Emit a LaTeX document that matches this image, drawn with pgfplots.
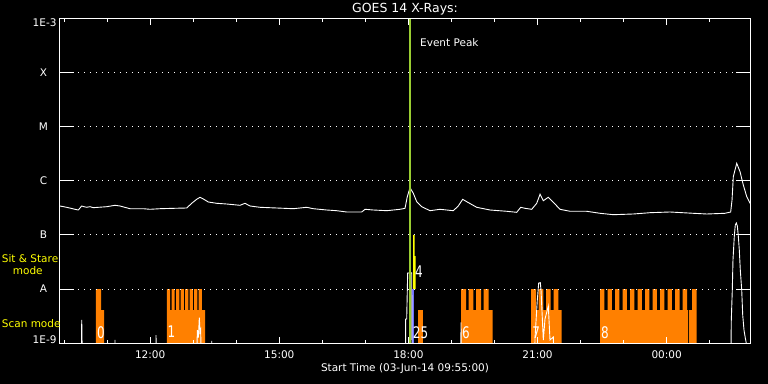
\documentclass[border=0pt]{standalone}
\usepackage{fontspec}
\setmainfont{DejaVu Sans}
\usepackage{graphicx}
\usepackage{pgfplots}
\pgfplotsset{compat=1.18}
\definecolor{iorange}{RGB}{255,128,0}
\definecolor{igreen}{RGB}{154,205,50}
\definecolor{iblue}{RGB}{110,110,255}
\definecolor{iyellow}{RGB}{255,255,0}
\newcommand{\tf}{\fontsize{10.5bp}{12bp}\selectfont}
\newcommand{\nf}{\fontsize{16bp}{18bp}\selectfont}
\newcommand{\num}[1]{\scalebox{0.75}[1]{\nf #1}}
\begin{document}
\begin{tikzpicture}
\fill[black] (-60bp,-41bp) rectangle (708bp,343bp);
\begin{axis}[
  at={(0,0)}, anchor=south west,
  scale only axis, width=690bp, height=324bp,
  xmin=9.9051, xmax=25.9366, ymin=-9, ymax=-3,
  axis on top,
  axis line style={white, line width=1bp},
  tick style={white, line width=1bp},
  tick align=inside,
  xtick={12,15,18,21,24},
  xticklabels={12:00,15:00,18:00,21:00,00:00},
  minor xtick={10,11,13,14,16,17,19,20,22,23,25},
  major tick length=6bp, minor tick length=3.5bp,
  ytick={-9,-8,-7,-6,-5,-4,-3},
  ytick style={/pgfplots/major tick length=14bp},
  yticklabels={\smash{1E-9},\makebox[26bp]{A},\makebox[26bp]{B},\makebox[26bp]{C},\makebox[26bp]{M},\makebox[26bp]{X},\smash{\raisebox{-7.4bp}{1E-3}}},
  ymajorgrids,
  grid style={white, line width=1bp, dash pattern=on 1bp off 5bp},
  ticklabel style={white, font=\tf},
  xticklabel style={anchor=center, yshift=-12bp},
  yticklabel style={anchor=east},
  every axis title shift=0pt,
  title={GOES 14 X-Rays:},
  title style={white, font=\fontsize{12.5bp}{14bp}\selectfont, at={(axis description cs:0.5,1)}, anchor=center, yshift=10bp},
  xlabel={Start Time (03-Jun-14 09:55:00)},
  xlabel style={white, font=\tf, at={(axis description cs:0.5,0)}, anchor=center, yshift=-26bp},
]
% Scan mode bars (orange)
\addplot[fill=iorange, draw=none] coordinates {(10.7415,-9.5)(10.7415,-8)(10.8577,-8)(10.8577,-8.389)(10.9274,-8.389)(10.9274,-9.5)};
\addplot[fill=iorange, draw=none] coordinates {(12.3911,-9.5)(12.3911,-8)(12.4655,-8)(12.4655,-8.389)(12.4957,-8.389)(12.4957,-8)(12.5701,-8)(12.5701,-8.389)(12.6026,-8.389)(12.6026,-8)(12.6769,-8)(12.6769,-8.389)(12.7071,-8.389)(12.7071,-8)(12.7815,-8)(12.7815,-8.389)(12.8117,-8.389)(12.8117,-8)(12.8860,-8)(12.8860,-8.389)(12.9186,-8.389)(12.9186,-8)(12.9929,-8)(12.9929,-8.389)(13.0231,-8.389)(13.0231,-8)(13.0975,-8)(13.0975,-8.389)(13.1277,-8.389)(13.1277,-8)(13.2020,-8)(13.2020,-8.389)(13.2741,-8.389)(13.2741,-9.5)};
\addplot[fill=iorange, draw=none] coordinates {(18.2229,-9.5)(18.2229,-8.389)(18.3391,-8.389)(18.3391,-9.5)};
\addplot[fill=iorange, draw=none] coordinates {(19.2220,-9.5)(19.2220,-8)(19.3382,-8)(19.3382,-8.389)(19.4009,-8.389)(19.4009,-8)(19.5078,-8)(19.5078,-8.389)(19.5705,-8.389)(19.5705,-8)(19.6867,-8)(19.6867,-8.389)(19.7494,-8.389)(19.7494,-8)(19.8656,-8)(19.8656,-8.389)(19.9585,-8.389)(19.9585,-9.5)};
\addplot[fill=iorange, draw=none] coordinates {(20.8484,-9.5)(20.8484,-8)(20.9646,-8)(20.9646,-8.389)(21.0273,-8.389)(21.0273,-8)(21.1342,-8)(21.1342,-8.389)(21.1969,-8.389)(21.1969,-8)(21.3061,-8)(21.3061,-8.389)(21.3758,-8.389)(21.3758,-8)(21.4827,-8)(21.4827,-8.389)(21.5617,-8.389)(21.5617,-9.5)};
\addplot[fill=iorange, draw=none] coordinates {(22.4516,-9.5)(22.4516,-8)(22.5515,-8)(22.5515,-8.389)(22.6263,-8.389)(22.6263,-8)(22.7262,-8)(22.7262,-8.389)(22.8010,-8.389)(22.8010,-8)(22.9009,-8)(22.9009,-8.389)(22.9758,-8.389)(22.9758,-8)(23.0757,-8)(23.0757,-8.389)(23.1505,-8.389)(23.1505,-8)(23.2504,-8)(23.2504,-8.389)(23.3252,-8.389)(23.3252,-8)(23.4251,-8)(23.4251,-8.389)(23.4999,-8.389)(23.4999,-8)(23.5998,-8)(23.5998,-8.389)(23.6746,-8.389)(23.6746,-8)(23.7745,-8)(23.7745,-8.389)(23.8494,-8.389)(23.8494,-8)(23.9493,-8)(23.9493,-8.389)(24.0241,-8.389)(24.0241,-8)(24.1240,-8)(24.1240,-8.389)(24.1988,-8.389)(24.1988,-8)(24.2987,-8)(24.2987,-8.389)(24.3735,-8.389)(24.3735,-8)(24.4734,-8)(24.4734,-8.389)(24.4962,-8.389)(24.4962,-9.5)};
\addplot[fill=iorange, draw=none] coordinates {(24.5194,-9.5)(24.5194,-8.389)(24.5891,-8.389)(24.5891,-8)(24.6983,-8)(24.6983,-9.5)};
% Sit & Stare (yellow) and blue
\addplot[fill=iyellow, draw=none] coordinates {(18.1068,-8)(18.1068,-7)(18.1463,-7)(18.1463,-7.389)(18.1695,-7.389)(18.1695,-8)};
\addplot[fill=iblue, draw=none] coordinates {(18.0766,-9.5)(18.0766,-8)(18.1231,-8)(18.1231,-9.5)};
% GOES low channel
\addplot[white, line width=0.9bp] coordinates {
(9.905,-9.6)(10.40,-9.6)(10.41,-8.574)(10.43,-9.6)
(11.175,-9.6)(11.183,-8.944)(11.19,-9.6)
(12.128,-9.6)(12.136,-8.852)(12.145,-9.6)
(13.08,-9.6)(13.095,-8.76)(13.12,-8.9)(13.142,-8.531)(13.16,-8.8)(13.174,-8.76)(13.19,-9.6)
(13.425,-9.6)(13.43,-8.963)(13.436,-9.6)
(17.93,-9.6)(17.937,-8.556)(17.96,-8.556)(17.983,-7.704)(18.077,-7.70)(18.085,-9.6)
(19.215,-9.6)(19.222,-8.617)(19.23,-9.6)
(20.93,-9.6)(20.9413,-8.907)(20.9948,-8.204)(21.0273,-7.889)(21.0645,-7.883)(21.0808,-8.019)(21.1110,-8.537)(21.1342,-8.944)(21.1737,-8.556)(21.2503,-8.315)(21.2666,-8.574)(21.2898,-8.944)(21.3665,-8.889)(21.3944,-9.6)
(25.488,-9.6)(25.502,-8.574)(25.525,-8.019)(25.541,-7.463)(25.572,-7.019)(25.595,-6.815)(25.618,-6.778)(25.642,-6.833)(25.665,-7.019)(25.688,-7.278)(25.711,-7.648)(25.744,-8.019)(25.767,-8.481)(25.797,-8.759)(25.827,-8.907)(25.850,-9.0)(25.86,-9.6)(25.94,-9.6)};
% GOES high channel
\addplot[white, line width=0.9bp] coordinates {
(9.905,-6.463)(10.061,-6.487)(10.254,-6.524)(10.330,-6.537)(10.409,-6.463)(10.463,-6.476)(10.525,-6.487)(10.602,-6.476)(10.679,-6.494)(10.990,-6.476)(11.183,-6.450)(11.299,-6.463)(11.531,-6.513)(11.840,-6.513)(11.996,-6.524)(12.228,-6.513)(12.537,-6.506)(12.849,-6.500)(12.965,-6.413)(13.081,-6.339)(13.158,-6.302)(13.234,-6.333)(13.351,-6.389)(13.546,-6.413)(13.778,-6.426)(14.087,-6.450)(14.203,-6.413)(14.320,-6.463)(14.552,-6.487)(14.940,-6.500)(15.326,-6.513)(15.637,-6.487)(15.790,-6.513)(16.102,-6.537)(16.334,-6.550)(16.566,-6.574)(16.720,-6.574)(16.915,-6.574)(16.992,-6.524)(17.184,-6.537)(17.496,-6.550)(17.805,-6.524)(17.921,-6.506)(17.974,-6.291)(18.037,-6.124)(18.114,-6.228)(18.193,-6.383)(18.309,-6.476)(18.502,-6.550)(18.734,-6.524)(19.043,-6.550)(19.159,-6.463)(19.261,-6.339)(19.354,-6.383)(19.587,-6.487)(19.896,-6.537)(20.284,-6.561)(20.516,-6.580)(20.609,-6.487)(20.709,-6.506)(20.865,-6.524)(20.981,-6.413)(21.058,-6.246)(21.134,-6.365)(21.250,-6.302)(21.367,-6.394)(21.522,-6.524)(21.755,-6.561)(22.143,-6.561)(22.452,-6.598)(22.761,-6.624)(23.226,-6.611)(23.614,-6.587)(24.078,-6.574)(24.620,-6.598)(24.931,-6.611)(25.356,-6.598)(25.488,-6.574)(25.519,-6.352)(25.549,-5.920)(25.628,-5.672)(25.705,-5.828)(25.781,-6.074)(25.861,-6.291)(25.937,-6.413)};
% Event peak
\addplot[igreen, line width=2bp] coordinates {(18.0371,-9.5)(18.0371,-2.5)};
\node[white, anchor=west, font=\tf, inner sep=0pt] at (axis cs:18.269,-3.444) {Event Peak};
% observation numbers
\node[white, inner sep=0pt] at (axis cs:10.858,-8.809) {\num{0}};
\node[white, inner sep=0pt] at (axis cs:12.496,-8.796) {\num{1}};
\node[white, inner sep=0pt] at (axis cs:18.281,-8.809) {\num{25}};
\node[white, inner sep=0pt] at (axis cs:19.338,-8.809) {\num{6}};
\node[white, inner sep=0pt] at (axis cs:20.969,-8.809) {\num{7}};
\node[white, inner sep=0pt] at (axis cs:22.568,-8.809) {\num{8}};
\node[white, inner sep=0pt] at (axis cs:18.246,-7.676) {\num{4}};
\end{axis}
\node[iyellow, anchor=base west, font=\tf, inner sep=0pt] at (-58.3bp,80.7bp) {Sit \& Stare};
\node[iyellow, anchor=base west, font=\tf, inner sep=0pt] at (-47.3bp,68.7bp) {mode};
\node[iyellow, anchor=base west, font=\tf, inner sep=0pt] at (-58.3bp,15.7bp) {Scan mode};
\pgfresetboundingbox
\path[use as bounding box] (-60bp,-41bp) rectangle (708bp,343bp);
\end{tikzpicture}
\end{document}
